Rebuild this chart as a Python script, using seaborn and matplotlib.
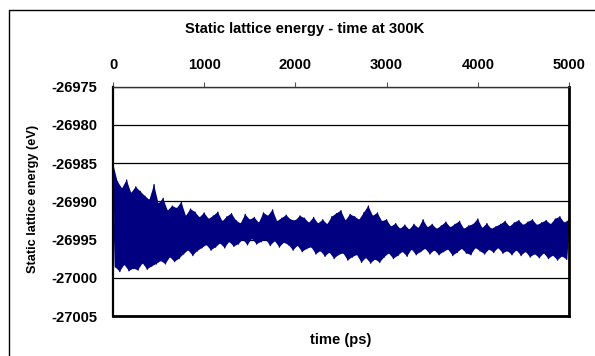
import numpy as np
import pandas as pd
import matplotlib
matplotlib.use("Agg")
import matplotlib.pyplot as plt
from matplotlib.ticker import FuncFormatter, FixedLocator
from matplotlib.patches import Rectangle
import seaborn as sns

# Upper turning points of the energy trace, one every 50 ps (0 .. 5000 ps)
upper_energy = [
    -26985.0, -26987.4, -26988.3, -26987.2, -26988.9, -26988.1, -26988.7, -26989.3, -26989.8, -26987.8,
    -26990.3, -26989.6, -26991.2, -26990.6, -26990.9, -26990.1, -26991.9, -26991.0, -26991.4, -26992.1,
    -26991.5, -26992.3, -26991.9, -26991.4, -26992.6, -26992.0, -26991.6, -26992.5, -26992.9, -26991.7,
    -26992.4, -26992.1, -26992.8, -26991.5, -26991.9, -26991.1, -26992.6, -26992.2, -26991.8, -26992.4,
    -26992.5, -26991.9, -26992.2, -26992.8, -26992.1, -26992.9, -26992.4, -26993.0, -26992.0, -26991.6,
    -26991.2, -26992.5, -26991.7, -26992.0, -26992.4, -26991.5, -26990.6, -26991.9, -26991.5, -26992.6,
    -26992.4, -26993.3, -26992.9, -26993.6, -26993.1, -26993.7, -26993.0, -26993.5, -26992.4, -26993.4,
    -26993.0, -26993.6, -26993.2, -26992.7, -26993.4, -26993.0, -26992.6, -26993.6, -26993.2, -26993.0,
    -26992.3, -26993.5, -26992.9, -26993.6, -26993.3, -26993.0, -26992.6, -26993.3, -26992.8, -26992.5,
    -26993.1, -26992.7, -26992.4, -26993.1, -26992.8, -26992.5, -26993.0, -26992.3, -26992.0, -26992.8,
    -26992.4,
]

# Lower turning points, one every 50 ps (25 .. 4975 ps)
lower_energy = [
    -26998.6, -26999.2, -26998.3, -26999.1, -26998.8, -26999.0, -26998.1, -26998.9, -26998.5, -26998.2,
    -26997.8, -26998.2, -26997.3, -26997.9, -26997.5, -26996.9, -26996.4, -26997.1, -26996.5, -26996.1,
    -26995.7, -26996.4, -26996.0, -26995.5, -26996.1, -26995.3, -26995.9, -26995.6, -26995.0, -26995.7,
    -26994.9, -26995.6, -26995.3, -26995.0, -26995.8, -26995.2, -26996.0, -26995.4, -26995.7, -26996.4,
    -26995.8, -26996.6, -26996.2, -26996.0, -26996.9, -26996.5, -26997.2, -26996.7, -26997.5, -26997.0,
    -26996.8, -26997.7, -26997.3, -26997.0, -26998.0, -26997.4, -26998.1, -26997.6, -26998.0, -26997.3,
    -26996.8, -26997.5, -26997.1, -26996.6, -26997.2, -26996.3, -26997.0, -26996.6, -26996.2, -26996.9,
    -26996.4, -26997.0, -26996.6, -26996.3, -26997.1, -26996.7, -26996.2, -26996.8, -26997.0, -26996.1,
    -26996.5, -26996.9, -26996.3, -26996.7, -26996.1, -26996.8, -26996.5, -26997.0, -26996.4, -26997.1,
    -26996.6, -26997.3, -26996.9, -26997.4, -26996.8, -26997.5, -26997.1, -26997.7, -26997.2, -26997.6,
]

upper_time = np.arange(len(upper_energy)) * 50.0
lower_time = np.arange(len(lower_energy)) * 50.0 + 25.0

x_ticks = [0, 1000, 2000, 3000, 4000, 5000]
y_ticks = [-27005, -27000, -26995, -26990, -26985, -26980, -26975]

title = "Static lattice energy - time at 300K"
x_label = "time (ps)"
y_label = "Static lattice energy (eV)"

trace = pd.DataFrame({
    "time": np.concatenate([upper_time, lower_time]),
    "energy": np.concatenate([upper_energy, lower_energy]),
}).sort_values("time").reset_index(drop=True)

sns.set_style("white")
plt.rcParams["font.family"] = ["Liberation Sans", "DejaVu Sans"]
plt.rcParams["font.weight"] = "bold"
plt.rcParams["text.color"] = "black"
plt.rcParams["axes.labelcolor"] = "black"
plt.rcParams["xtick.color"] = "black"
plt.rcParams["ytick.color"] = "black"
plt.rcParams["axes.unicode_minus"] = False

FS = 10.6
NAVY = "#000080"
W, H = 595, 356
fig = plt.figure(figsize=(W / 100, H / 100), dpi=100)
fig.patch.set_facecolor("white")

ax = fig.add_axes([113 / W, 1 - 316 / H, (569 - 113) / W, (316 - 86.7) / H])
ax.set_facecolor("white")

# Solid body of the fast oscillation between its turning points
ax.fill(np.concatenate([upper_time, lower_time[::-1]]),
        np.concatenate([upper_energy, lower_energy[::-1]]),
        color=NAVY, linewidth=0, zorder=2)
sns.lineplot(data=trace, x="time", y="energy", sort=False, estimator=None,
             color=NAVY, linewidth=0.9, ax=ax, zorder=2.1)

ax.set_xlim(0, 5000)
ax.set_ylim(-27005, -26975)
ax.xaxis.set_major_locator(FixedLocator(x_ticks))
ax.yaxis.set_major_locator(FixedLocator(y_ticks))
ax.yaxis.set_major_formatter(FuncFormatter(lambda v, p: f"{v:.0f}"))
ax.xaxis.set_major_formatter(FuncFormatter(lambda v, p: f"{v:.0f}"))

ax.xaxis.tick_top()
ax.tick_params(axis="x", which="major", direction="out", length=3.5, width=0.8,
               color="#555555", labelcolor="black", pad=7.0, labelsize=FS,
               top=True, bottom=False)
ax.tick_params(axis="y", which="major", length=0, pad=11.5, labelsize=FS,
               labelcolor="black")
for lbl in ax.get_xticklabels() + ax.get_yticklabels():
    lbl.set_fontweight("bold")

ax.set_axisbelow(True)
ax.grid(axis="y", color="#000000", linewidth=0.9, zorder=1)
ax.grid(axis="x", visible=False)

ax.set_xlabel(x_label, fontsize=FS, fontweight="bold", color="black")
ax.xaxis.set_label_position("bottom")
ax.xaxis.set_label_coords(0.5, -0.075)
ax.set_ylabel(y_label, fontsize=9.2, fontweight="bold", color="black")
ax.yaxis.set_label_coords(-0.162, 0.51)

ax.spines["top"].set_linewidth(1.0)
ax.spines["top"].set_color("#333333")
ax.spines["left"].set_linewidth(1.6)
ax.spines["right"].set_linewidth(2.0)
ax.spines["bottom"].set_linewidth(2.0)
for s in ["left", "right", "bottom"]:
    ax.spines[s].set_color("black")
    ax.spines[s].set_visible(True)
for s in ax.spines.values():
    s.set_zorder(3)

fig.text(305 / W, 1 - 29 / H, title, ha="center", va="center",
         fontsize=FS, fontweight="bold", color="black")

# Chart-area border
fig.patches.append(Rectangle((8.5 / W, -0.2), 1.2, 1.2 - 9.5 / H,
                             transform=fig.transFigure, fill=False,
                             edgecolor="black", linewidth=1.0, clip_on=False))

fig.savefig("out.png", dpi=100, facecolor="white")
